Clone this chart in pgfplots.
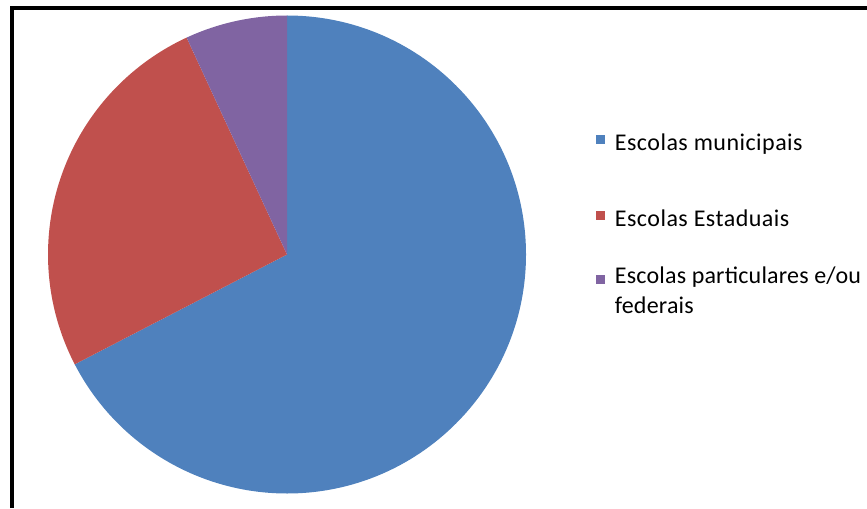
\documentclass[border=0pt]{standalone}
\usepackage{pgfplots}
\pgfplotsset{compat=1.18}
\usepackage{pgfplotstable}
\usepackage{fontspec}
\setmainfont{Carlito}[LetterSpace=2]
\newfontfamily\narrowcarlito{Carlito}[LetterSpace=0.8]
\definecolor{c1}{HTML}{4F81BD}
\definecolor{c2}{HTML}{C0504D}
\definecolor{c3}{HTML}{8064A2}
\pgfplotstableread{
label value
municipais 67.4
estaduais 25.7
particulares 6.9
}\piedata
\pgfplotstablegetelem{0}{value}\of\piedata \let\va\pgfplotsretval
\pgfplotstablegetelem{1}{value}\of\piedata \let\vb\pgfplotsretval
\pgfplotstablegetelem{2}{value}\of\piedata \let\vc\pgfplotsretval
\pgfmathsetmacro\aA{90}
\pgfmathsetmacro\aB{\aA-3.6*\va}
\pgfmathsetmacro\aC{\aB-3.6*\vb}
\pgfmathsetmacro\aD{\aC-3.6*\vc}
\def\R{179.25pt}
\pgfplotsset{
  pieaxis/.style={
    at={(0,0)}, anchor=south west,
    scale only axis, width=650.25pt, height=381pt,
    xmin=0, xmax=867, ymin=0, ymax=508,
    hide axis, clip=false,
    legend style={anchor=base west, draw=none, fill=none,
      inner sep=0pt, column sep=0pt,
      cells={align=left, inner sep=0pt},
      font=\fontsize{18pt}{22.5pt}\selectfont},
    legend cell align=left,
    legend image code/.code={\path[draw=none,fill=none] (0pt,0pt) -- (12pt,0pt);
       \fill[##1,draw=none] (0pt,-0.4pt) rectangle (6.4pt,6pt);},
  }
}
\begin{document}
\begin{tikzpicture}
\useasboundingbox (0,0) rectangle (650.25pt,381pt);
\begin{axis}[pieaxis, legend style={at={(axis cs:596,365)}}]
\addlegendimage{fill=c1}
\addlegendentry{Escolas municipais}
\fill[c1] (axis cs:287,253.5) -- ++(\aA:\R) arc[start angle=\aA, end angle=\aB, radius=\R] -- cycle;
\draw[line width=3pt] (axis cs:12,0) -- (axis cs:12,500) -- (axis cs:867,500);
\end{axis}
\begin{axis}[pieaxis, legend style={at={(axis cs:596,289)}}]
\addlegendimage{fill=c2}
\addlegendentry{Escolas Estaduais}
\fill[c2] (axis cs:287,253.5) -- ++(\aB:\R) arc[start angle=\aB, end angle=\aC, radius=\R] -- cycle;
\end{axis}
\begin{axis}[pieaxis, legend style={at={(axis cs:596,217)}},
  legend image code/.code={\path[draw=none,fill=none] (0pt,0pt) -- (12pt,0pt);
       \fill[#1,draw=none] (0pt,5.6pt) rectangle (6.4pt,12pt);}]
\addlegendimage{fill=c3}
\addlegendentry{\narrowcarlito Escolas particulares e/ou\\\narrowcarlito federais}
\fill[c3] (axis cs:287,253.5) -- ++(\aC:\R) arc[start angle=\aC, end angle=\aD, radius=\R] -- cycle;
\end{axis}
\end{tikzpicture}
\end{document}
